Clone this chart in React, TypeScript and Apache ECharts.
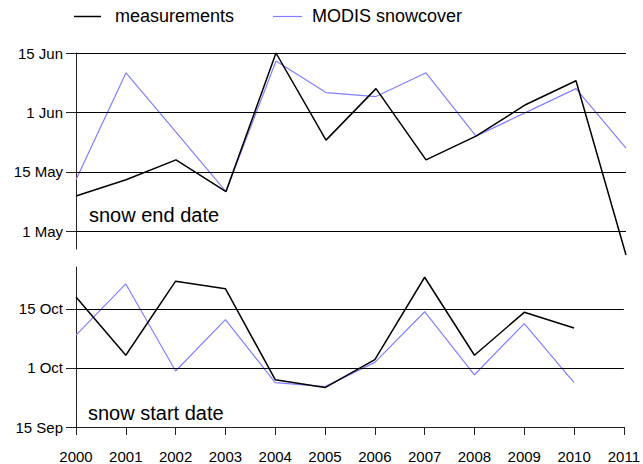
import React, { useEffect, useRef } from "react";
import * as echarts from "echarts";

const years = [2000, 2001, 2002, 2003, 2004, 2005, 2006, 2007, 2008, 2009, 2010, 2011];

// values in axis units: 15 units per half month
const endMeasured = [8.9, 13.0, 18.0, 10.0, 45.0, 23.0, 36.0, 18.0, 24.0, 32.0, 38.0, -6.0];
const endModis = [13.0, 40.0, 25.0, 10.0, 43.0, 35.0, 34.0, 40.0, 24.0, 30.0, 36.0, 21.0];
const startMeasured = [33.0, 18.2, 37.0, 35.1, 12.0, 10.0, 17.1, 38.0, 18.2, 29.1, 25.1];
const startModis = [23.3, 36.3, 14.2, 27.25, 11.25, 10.25, 16.4, 29.25, 13.25, 26.25, 11.25];

const endTickValues = [0, 15, 30, 45];
const endTickLabels = ["1 May", "15 May", "1 Jun", "15 Jun"];
const startTickValues = [0, 15, 30];
const startTickLabels = ["15 Sep", "1 Oct", "15 Oct"];

const legendNames = ["measurements", "MODIS snowcover"];
const panelTitles = ["snow end date", "snow start date"];

const FONT = "Liberation Sans, Arial, Helvetica, sans-serif";
const BLUE = "#8080ff";
const BLACK = "#000000";

function pairs(vals: number[]) {
  return vals.map((v, i) => [years[i], v]);
}

function gridLines(vals: number[]) {
  return {
    silent: true,
    symbol: ["none", "none"],
    label: { show: false },
    lineStyle: { color: BLACK, width: 1, type: "solid" },
    emphasis: { disabled: true },
    animation: false,
    data: vals.map((v) => ({ yAxis: v })),
  };
}

export default function App() {
  const ref = useRef<HTMLDivElement>(null);
  useEffect(() => {
    if (!ref.current) return;
    const chart = echarts.init(ref.current, null, { renderer: "svg" });
    const labelFmt = (vals: number[], labels: string[]) => (v: number) => {
      const i = vals.findIndex((x) => Math.abs(x - v) < 1e-6);
      return i >= 0 ? labels[i] : "";
    };
    chart.setOption({
      animation: false,
      backgroundColor: "#ffffff",
      textStyle: { fontFamily: FONT },
      grid: [
        { left: 76, top: 53, width: 550, height: 196, containLabel: false },
        { left: 76, top: 267, width: 550, height: 162, containLabel: false },
      ],
      xAxis: [
        {
          type: "value",
          gridIndex: 0,
          min: 2000,
          max: 2011,
          interval: 1,
          show: false,
        },
        {
          type: "value",
          gridIndex: 1,
          min: 2000,
          max: 2011,
          interval: 1,
          axisLine: { show: true, lineStyle: { color: "#222", width: 1 } },
          axisTick: { show: true, length: 8, lineStyle: { color: "#222" } },
          axisLabel: {
            margin: 22,
            fontSize: 15,
            color: BLACK,
            fontFamily: FONT,
            formatter: (v: number) => String(v),
          },
          splitLine: { show: false },
        },
      ],
      yAxis: [
        {
          type: "value",
          gridIndex: 0,
          min: -4.5,
          max: 45,
          axisLine: { show: true, lineStyle: { color: "#222", width: 1 } },
          axisTick: { show: true, length: 10, customValues: endTickValues, lineStyle: { color: "#222" } },
          axisLabel: {
            margin: 13,
            fontSize: 15,
            color: BLACK,
            fontFamily: FONT,
            customValues: endTickValues,
            formatter: labelFmt(endTickValues, endTickLabels),
          },
          splitLine: { show: false },
        },
        {
          type: "value",
          gridIndex: 1,
          min: 0,
          max: 40.6,
          axisLine: { show: true, lineStyle: { color: "#222", width: 1 } },
          axisTick: { show: true, length: 10, customValues: startTickValues, lineStyle: { color: "#222" } },
          axisLabel: {
            margin: 13,
            fontSize: 15,
            color: BLACK,
            fontFamily: FONT,
            customValues: startTickValues,
            formatter: labelFmt(startTickValues, startTickLabels),
          },
          splitLine: { show: false },
        },
      ],
      series: [
        {
          type: "line",
          name: "grid-top",
          xAxisIndex: 0,
          yAxisIndex: 0,
          data: [],
          markLine: gridLines(endTickValues),
        },
        {
          type: "line",
          name: "grid-bottom",
          xAxisIndex: 1,
          yAxisIndex: 1,
          data: [],
          markLine: gridLines(startTickValues.filter((v) => v > 0)),
        },
        {
          type: "line",
          name: legendNames[1],
          xAxisIndex: 0,
          yAxisIndex: 0,
          data: pairs(endModis),
          showSymbol: false,
          clip: false,
          lineStyle: { color: BLUE, width: 1.2 },
          itemStyle: { color: BLUE },
          silent: true,
        },
        {
          type: "line",
          name: legendNames[0],
          xAxisIndex: 0,
          yAxisIndex: 0,
          data: pairs(endMeasured),
          showSymbol: false,
          clip: false,
          lineStyle: { color: BLACK, width: 1.5 },
          itemStyle: { color: BLACK },
          silent: true,
        },
        {
          type: "line",
          name: legendNames[1] + " start",
          xAxisIndex: 1,
          yAxisIndex: 1,
          data: pairs(startModis),
          showSymbol: false,
          clip: false,
          lineStyle: { color: BLUE, width: 1.2 },
          itemStyle: { color: BLUE },
          silent: true,
        },
        {
          type: "line",
          name: legendNames[0] + " start",
          xAxisIndex: 1,
          yAxisIndex: 1,
          data: pairs(startMeasured),
          showSymbol: false,
          clip: false,
          lineStyle: { color: BLACK, width: 1.5 },
          itemStyle: { color: BLACK },
          silent: true,
        },
      ],
      graphic: [
        {
          type: "line",
          shape: { x1: 74, y1: 16.5, x2: 101, y2: 16.5 },
          style: { stroke: BLACK, lineWidth: 1.5 },
          silent: true,
        },
        {
          type: "text",
          x: 115,
          y: 16,
          style: {
            text: legendNames[0],
            fontSize: 18,
            fontFamily: FONT,
            fill: BLACK,
            verticalAlign: "middle",
            align: "left",
          },
          silent: true,
        },
        {
          type: "line",
          shape: { x1: 273, y1: 16.5, x2: 302, y2: 16.5 },
          style: { stroke: BLUE, lineWidth: 1.2 },
          silent: true,
        },
        {
          type: "text",
          x: 312,
          y: 16,
          style: {
            text: legendNames[1],
            fontSize: 18,
            fontFamily: FONT,
            fill: BLACK,
            verticalAlign: "middle",
            align: "left",
          },
          silent: true,
        },
        {
          type: "text",
          x: 89,
          y: 214.5,
          style: {
            text: panelTitles[0],
            fontSize: 20,
            fontFamily: FONT,
            fill: BLACK,
            verticalAlign: "middle",
            align: "left",
          },
          silent: true,
        },
        {
          type: "text",
          x: 88,
          y: 413,
          style: {
            text: panelTitles[1],
            fontSize: 20,
            fontFamily: FONT,
            fill: BLACK,
            verticalAlign: "middle",
            align: "left",
          },
          silent: true,
        },
      ],
    });
    return () => chart.dispose();
  }, []);
  return <div ref={ref} style={{ width: 643, height: 464, position: "absolute", left: 0, top: 0 }} />;
}
